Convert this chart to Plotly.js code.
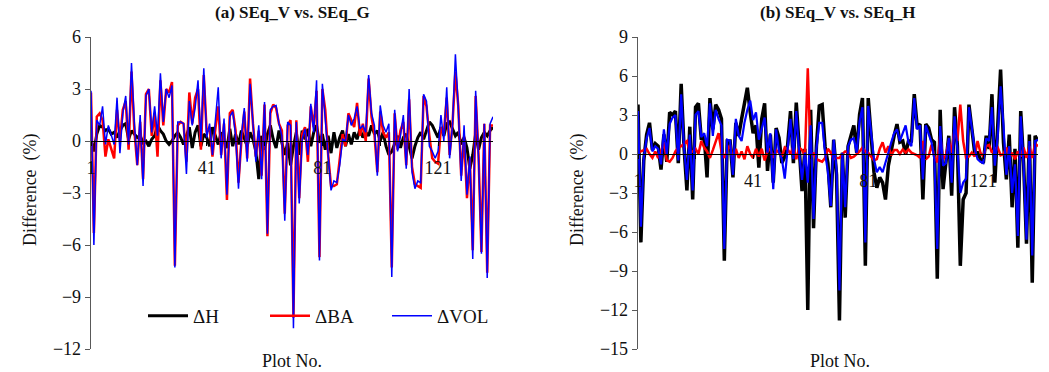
<!DOCTYPE html>
<html>
<head>
<meta charset="utf-8">
<script src="https://cdn.plot.ly/plotly-3.0.1.min.js"></script>
<style>html,body{margin:0;padding:0;background:#fff;}#chart{width:1049px;height:372px;}</style>
</head>
<body>
<div id="chart"></div>
<script>
// ---- data ----
const plotNo = Array.from({length: 140}, (_, i) => i + 1);
const tickVals = [1, 21, 41, 61, 81, 101, 121];
const tickText = ['1', '', '41', '', '81', '', '121'];
const seriesNames = ['\u0394H', '\u0394BA', '\u0394VOL'];

// (a) SEq_V vs. SEq_G
const a_dH = [0.1,-0.6,0.4,0.9,0.8,0.6,0.7,0.4,0.5,0.2,0.6,0.9,1.0,0.1,0.6,0.4,0.2,0.3,-0.1,0.0,
  -0.3,0.1,0.3,0.9,0.6,0.4,0.0,-0.2,0.0,0.3,0.5,0.2,-0.2,0.3,0.8,-0.4,0.5,0.9,-0.3,0.4,
  0.2,-0.3,0.8,0.3,-0.2,0.5,0.1,-0.4,0.7,-0.3,0.4,-0.2,0.6,0.2,-0.3,0.5,0.1,-0.6,-2.2,0.3,
  -0.5,0.4,0.9,0.1,-0.4,0.6,-0.2,-0.8,-0.1,-1.4,-0.3,0.5,-0.8,0.6,0.1,0.7,-0.3,0.5,0.9,-0.1,
  0.4,-0.5,0.3,-0.7,0.5,-0.4,0.2,0.6,-0.3,0.4,-0.2,0.5,0.1,0.7,0.2,0.5,0.3,0.9,0.4,0.6,
  0.0,0.5,-0.3,-0.8,-0.6,-0.2,0.3,-0.4,0.2,0.4,-0.4,-1.0,-0.3,0.2,0.5,0.1,0.6,1.1,0.9,0.5,
  0.2,0.8,0.3,1.0,1.1,0.7,0.3,0.5,-0.2,0.2,-0.4,-1.6,-0.8,0.4,-0.5,0.2,0.5,0.3,0.6,0.8];
const a_dBA = [2.8,-5.3,1.4,1.6,1.2,-0.9,0.1,-0.5,-1.0,1.8,0.0,1.8,2.3,-0.5,4.0,0.6,-1.4,1.1,-2.2,2.7,
  3.0,0.3,1.6,-0.9,3.5,0.9,3.0,2.8,3.4,-7.2,0.9,1.1,1.0,-1.2,2.8,1.0,2.5,3.0,-0.5,3.8,
  0.5,0.8,-0.9,0.7,2.0,-0.8,1.0,-3.4,1.6,1.8,0.6,-2.4,0.0,1.7,-1.0,3.6,1.0,-0.9,0.6,-2.0,
  2.1,-5.5,1.6,2.1,1.9,1.0,0.6,-4.2,0.9,1.2,-10.2,1.2,-3.3,0.4,0.8,-1.2,2.0,0.8,2.9,-6.7,
  3.0,1.8,-0.8,-2.6,-2.6,-2.5,-1.0,0.4,-0.3,1.6,1.2,0.8,2.2,0.3,1.0,0.0,3.6,1.4,0.4,-1.8,
  1.7,0.5,0.2,0.5,-7.3,1.6,-0.5,0.6,1.1,-1.4,2.4,-1.5,-2.5,-2.6,-2.7,2.6,2.0,0.3,-1.0,-1.2,
  -1.3,0.8,0.4,2.5,-0.8,1.0,4.0,2.0,-2.0,0.3,-3.3,-1.0,-6.3,2.6,-0.8,-6.4,1.0,-7.6,0.9,0.9];
const a_dVOL = [2.9,-6.0,1.2,0.9,2.0,-0.2,0.9,0.3,-0.2,2.5,-0.7,1.6,2.6,-0.2,4.5,1.0,-1.4,1.5,-2.6,2.6,
  3.0,0.5,2.0,0.3,3.9,1.1,3.0,2.5,3.2,-7.3,1.1,1.1,1.0,-1.9,2.3,0.9,1.9,3.5,0.0,4.2,
  0.2,1.0,-0.8,1.2,3.1,-1.0,1.3,-3.1,1.4,1.7,0.3,-2.75,0.3,1.9,-1.2,3.3,0.9,-1.2,0.9,-2.2,
  2.25,-5.35,1.8,2.0,2.05,1.0,0.3,-4.6,1.1,0.9,-10.8,1.1,-3.6,0.1,0.7,-0.8,2.15,0.5,3.5,-6.9,
  3.3,1.3,-0.4,-2.85,-2.3,-2.4,-1.4,0.1,0.0,1.5,0.9,1.3,2.0,0.7,0.9,0.5,3.8,1.6,0.9,-2.0,
  2.05,0.9,0.5,1.0,-7.85,1.8,-0.6,0.3,1.5,-1.6,3.0,-1.8,-2.75,-2.3,-2.4,2.7,2.3,-0.3,-0.6,-1.0,
  -0.6,1.5,0.0,3.1,-1.0,0.9,5.0,1.9,-2.3,0.9,-3.1,-0.9,-6.8,2.9,-1.0,-6.5,1.0,-7.9,1.0,1.4];

// (b) SEq_V vs. SEq_H
const b_dH = [3.8,-6.8,-0.5,1.5,2.4,0.3,0.8,0.6,-1.2,1.5,-0.6,3.2,3.0,3.3,-0.7,5.4,0.5,-2.8,2.1,-3.5,
  3.6,3.9,1.1,1.4,-1.8,4.3,1.9,3.8,3.4,2.7,-8.2,1.0,1.0,-1.8,2.4,1.4,2.7,4.1,5.1,3.2,
  1.6,2.2,-1.05,2.7,3.9,-1.3,1.5,-2.2,2.0,1.25,-0.7,-0.2,0.7,3.3,-0.7,3.95,0.1,-2.85,0.4,-12.0,
  3.4,-5.7,0.6,3.7,3.8,0.6,-0.7,-4.1,1.1,-1.6,-12.8,0.1,-4.9,0.6,1.4,2.2,0.1,3.05,4.3,-8.6,
  4.3,1.6,-1.4,-2.6,-1.8,-2.2,-3.5,-0.9,0.4,1.4,2.3,0.9,1.0,0.0,1.0,1.0,4.6,2.15,2.3,-3.5,
  2.3,2.0,1.1,0.9,-9.6,3.4,-2.7,-0.5,1.4,-3.2,3.6,0.6,-8.6,-3.5,-3.0,3.8,2.15,0.1,0.1,-0.4,
  -0.7,1.4,0.4,4.6,-2.2,2.2,6.5,0.9,-1.95,1.5,-4.1,0.4,-7.2,3.3,-0.7,-6.9,1.5,-9.9,1.4,1.0];
const b_dBA = [0.1,0.2,0.3,0.4,0.0,-0.3,0.2,-0.3,0.2,0.9,-0.5,-0.6,-0.3,0.2,0.5,0.6,0.8,1.0,0.1,0.2,
  0.4,0.0,1.0,0.5,0.2,-0.3,0.3,0.9,1.6,0.2,-0.3,0.3,0.7,-0.5,0.4,-0.3,0.2,-0.4,0.6,0.0,
  -0.3,0.4,-0.2,0.4,-0.5,0.2,0.4,-0.3,0.3,0.1,-0.2,0.5,0.35,0.0,0.6,-0.4,0.5,0.3,-0.2,6.6,
  -0.3,0.1,-0.4,-0.5,-0.6,-0.3,0.4,0.1,-0.4,-0.3,-0.3,0.0,0.2,0.1,-0.3,-0.2,0.0,0.2,0.5,0.2,
  0.1,-0.2,-0.5,-0.4,0.4,0.9,0.1,0.6,-0.1,0.3,0.3,0.0,0.35,0.1,0.35,0.1,0.0,-0.1,-0.3,1.0,
  -0.4,-0.2,0.7,-0.2,-0.65,1.4,-0.4,-0.1,1.0,0.1,2.0,1.0,3.8,1.0,-0.3,-0.2,0.1,-0.2,1.0,0.1,
  -0.2,0.6,0.7,0.1,0.4,0.5,-0.1,0.0,0.5,-0.3,0.1,-0.4,0.2,-0.2,0.5,-0.3,0.6,-0.3,0.8,0.6];
const b_dVOL = [3.3,-5.6,-0.3,1.2,2.0,0.2,0.6,0.4,-0.8,1.9,0.0,2.3,2.8,3.0,-0.5,4.6,0.5,-2.0,1.5,-2.8,
  3.0,3.3,1.3,1.6,0.6,3.9,1.4,3.4,2.7,2.2,-7.3,1.1,1.0,-1.6,2.7,1.4,1.0,2.4,3.4,4.1,
  2.6,3.2,1.1,1.9,2.8,0.1,1.6,-2.7,1.9,0.2,-0.4,-1.9,0.4,2.7,-0.4,3.3,0.1,-2.0,0.1,-2.2,
  2.2,-5.0,0.4,2.4,2.4,0.1,-1.4,-4.0,1.1,-1.2,-10.5,0.1,-4.1,0.6,1.1,1.2,0.1,2.5,3.6,-6.8,
  3.7,1.4,-0.4,-1.4,-1.0,-1.4,-0.7,0.1,0.9,1.6,1.9,1.0,1.6,2.2,0.9,0.6,4.3,1.9,2.2,-1.95,
  2.2,1.6,0.9,-0.4,-7.3,2.15,-0.9,-0.7,1.25,-2.2,2.9,0.4,-3.0,-2.2,-1.9,3.6,1.9,0.4,-0.4,-0.6,
  -0.7,1.2,1.0,3.6,-0.9,1.4,5.2,2.2,-1.6,0.6,-3.0,-0.8,-6.3,2.9,-0.9,-6.6,1.0,-7.8,1.0,1.1];

// ---- layout helpers ----
const W = 1049, H = 372;
const FONT = 'Liberation Serif, Times New Roman, serif';
const yDom = [(H - 349) / H, (H - 37) / H];
const xDomA = [91 / W, 493 / W];
const xDomB = [638 / W, 1038 / W];
const yRangeA = [-12, 6], yRangeB = [-15, 9];
const zeroPos = (r) => yDom[0] + (0 - r[0]) / (r[1] - r[0]) * (yDom[1] - yDom[0]);

function xAxis(dom, pos) {
  return {domain: dom, range: [1, 140], anchor: 'free', position: pos,
    showline: true, linecolor: '#000', linewidth: 1, ticks: 'outside', ticklen: 4, tickcolor: '#000',
    tickvals: tickVals, ticktext: tickText, showgrid: false, zeroline: false,
    ticklabelstandoff: 6, tickfont: {family: FONT, size: 18, color: '#111'}};
}
function yAxis(r, anchor) {
  return {domain: yDom, range: r, anchor: anchor, dtick: 3, tick0: 0,
    showline: true, linecolor: '#595959', linewidth: 1.3, ticks: 'outside', ticklen: 5, tickcolor: '#595959',
    showgrid: false, zeroline: false, tickfont: {family: FONT, size: 18, color: '#111'}};
}

const traces = [
  {x: plotNo, y: a_dH, name: seriesNames[0], type: 'scatter', mode: 'lines', xaxis: 'x', yaxis: 'y',
   line: {color: '#000000', width: 3}},
  {x: plotNo, y: a_dBA, name: seriesNames[1], type: 'scatter', mode: 'lines', xaxis: 'x', yaxis: 'y',
   line: {color: '#FF0000', width: 2.5}},
  {x: plotNo, y: a_dVOL, name: seriesNames[2], type: 'scatter', mode: 'lines', xaxis: 'x', yaxis: 'y',
   line: {color: '#0000FF', width: 1.5}},
  {x: plotNo, y: b_dH, name: seriesNames[0], type: 'scatter', mode: 'lines', xaxis: 'x2', yaxis: 'y2',
   line: {color: '#000000', width: 3.5}, showlegend: false},
  {x: plotNo, y: b_dBA, name: seriesNames[1], type: 'scatter', mode: 'lines', xaxis: 'x2', yaxis: 'y2',
   line: {color: '#FF0000', width: 2.5}, showlegend: false},
  {x: plotNo, y: b_dVOL, name: seriesNames[2], type: 'scatter', mode: 'lines', xaxis: 'x2', yaxis: 'y2',
   line: {color: '#0000FF', width: 2.2}, showlegend: false}
];

const ann = (text, x, y, opts) => Object.assign({text: text, x: x, y: y, xref: 'paper', yref: 'paper',
  showarrow: false, xanchor: 'center', yanchor: 'middle', font: {family: FONT, size: 18, color: '#111'}}, opts || {});

const layout = {
  width: W, height: H, margin: {l: 0, r: 0, t: 0, b: 0},
  paper_bgcolor: '#fff', plot_bgcolor: 'rgba(0,0,0,0)',
  xaxis: xAxis(xDomA, zeroPos(yRangeA)),
  yaxis: yAxis(yRangeA, 'x'),
  xaxis2: xAxis(xDomB, zeroPos(yRangeB)),
  yaxis2: yAxis(yRangeB, 'x2'),
  showlegend: true,
  legend: {orientation: 'h', x: 143 / W, y: 1 - 316 / H, xanchor: 'left', yanchor: 'middle',
    bgcolor: 'rgba(0,0,0,0)', entrywidth: 67, itemwidth: 40,
    font: {family: FONT, size: 19, color: '#111'}, traceorder: 'normal'},
  annotations: [
    ann('<b>(a) SEq_V vs. SEq_G</b>', 292 / W, 1 - 13 / H, {font: {family: FONT, size: 17, color: '#111'}}),
    ann('<b>(b) SEq_V vs. SEq_H</b>', 838 / W, 1 - 13 / H, {font: {family: FONT, size: 17, color: '#111'}}),
    ann('Difference  (%)', 30 / W, 1 - 190 / H, {textangle: -90}),
    ann('Difference  (%)', 577 / W, 1 - 190 / H, {textangle: -90}),
    ann('Plot No.', 292 / W, 1 - 361 / H),
    ann('Plot No.', 840 / W, 1 - 361 / H)
  ]
};

Plotly.newPlot('chart', traces, layout, {displayModeBar: false, staticPlot: true});
</script>
</body>
</html>
